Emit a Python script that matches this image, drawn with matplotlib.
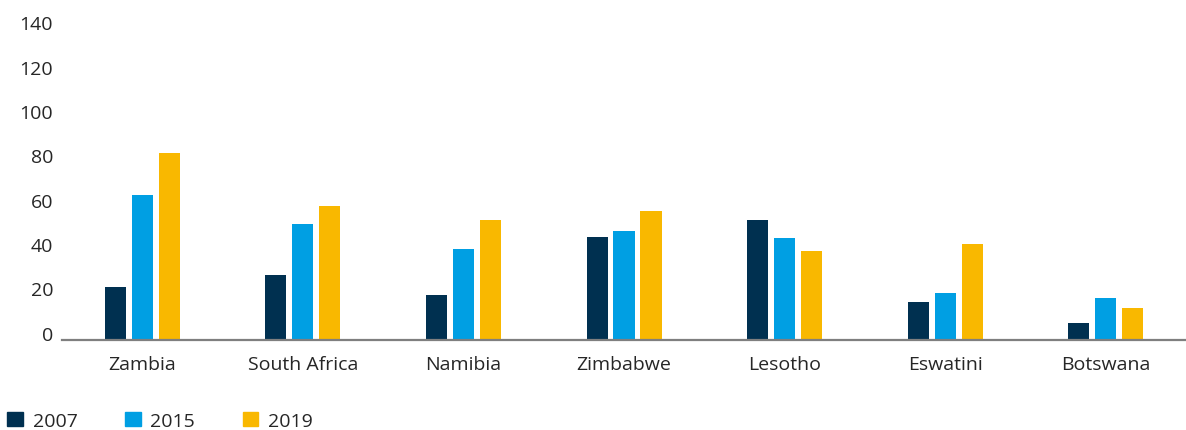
import numpy as np
import matplotlib.pyplot as plt
from matplotlib.patches import Patch

plt.rcParams['font.family'] = ['Open Sans', 'DejaVu Sans']

countries = ["Zambia", "South Africa", "Namibia", "Zimbabwe", "Lesotho", "Eswatini", "Botswana"]
years = ["2007", "2015", "2019"]
v2007 = [23.7, 29.1, 20.1, 46.3, 53.9, 17.0, 7.5]
v2015 = [65.2, 52.1, 40.9, 49.0, 45.8, 21.0, 18.8]
v2019 = [84.1, 60.2, 53.9, 58.0, 40.0, 43.1, 14.3]
colors = ["#003050", "#009FE3", "#F9B800"]

fig = plt.figure(figsize=(11.86, 4.31), dpi=100)
ax = fig.add_axes([0.0523, 0.2095, 0.9477, 0.7205])

x = np.arange(len(countries))
w = 0.131
step = 0.168
for i, vals in enumerate([v2007, v2015, v2019]):
    ax.bar(x + (i - 1) * step, vals, width=w, color=colors[i])

ax.set_xlim(-0.5, len(countries) - 0.5)
ax.set_ylim(0, 140)
ax.set_yticks(np.arange(0, 141, 20))
ax.set_xticks(x)
ax.set_xticklabels(countries)

for s in ["top", "right", "left"]:
    ax.spines[s].set_visible(False)
ax.spines["bottom"].set_color("#7f7f7f")
ax.spines["bottom"].set_linewidth(1.6)
ax.tick_params(axis="both", length=0, labelsize=14, colors="#262626")
ax.tick_params(axis="x", pad=11)
ax.tick_params(axis="y", pad=6.5)
for lab in ax.get_yticklabels():
    lab.set_verticalalignment("baseline")

# legend at the bottom left
handles = [Patch(color=c) for c in colors]
fig.legend(handles, years, loc="lower left", bbox_to_anchor=(-0.002, -0.022), ncol=3,
           frameon=False, fontsize=14, handlelength=0.8, handleheight=0.8,
           handletextpad=0.5, columnspacing=2.45, borderaxespad=0.2,
           borderpad=0.3, labelcolor="#262626")

fig.savefig("out.png", dpi=100)
